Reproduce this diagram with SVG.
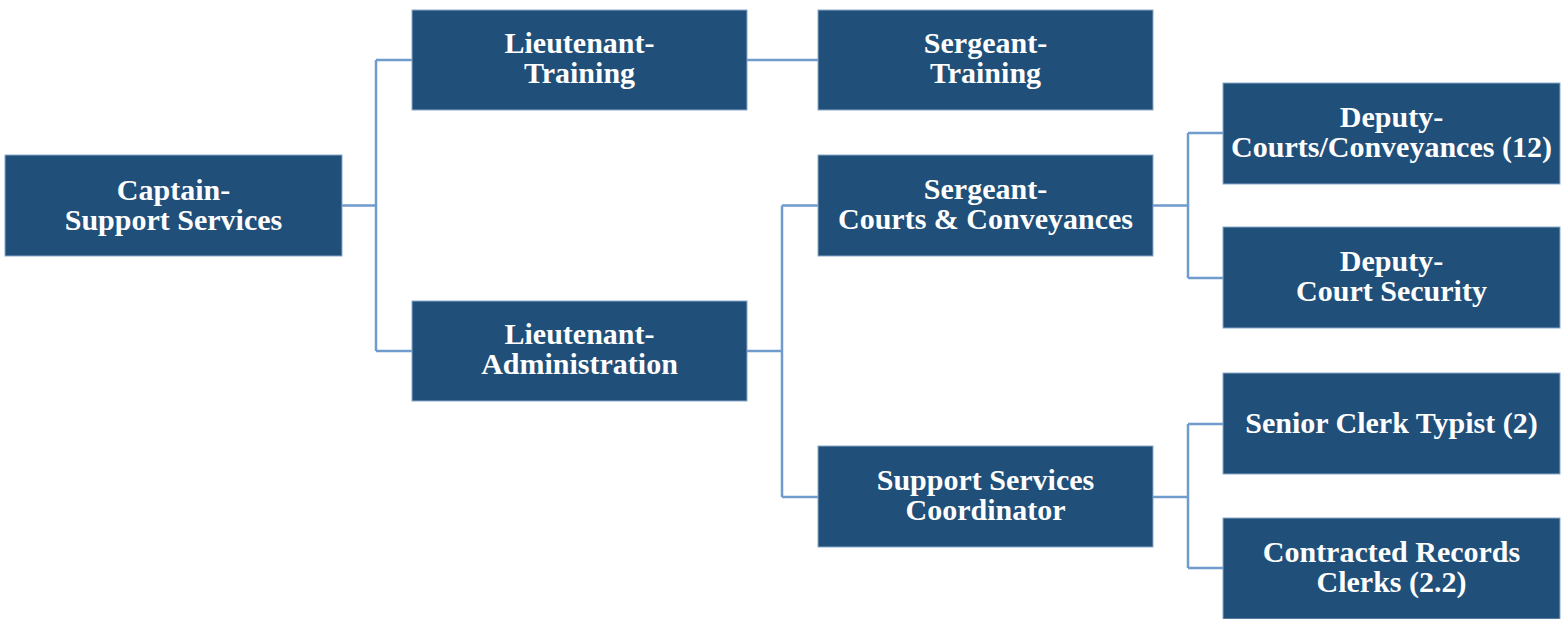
<svg xmlns="http://www.w3.org/2000/svg" width="1562" height="619" viewBox="0 0 1562 619">
<style>
.box{fill:#204f79;stroke:#8aa9c9;stroke-width:1}
.t{font-family:"Liberation Serif","Times New Roman",serif;font-weight:bold;font-size:30px;fill:#ffffff;text-anchor:middle}
.c{fill:none;stroke:#6f9bcd;stroke-width:2.5}
</style>
<rect width="1562" height="619" fill="#ffffff"/>
<g id="connectors">
<path class="c" d="M342,205.5H376M376,60V351M376,60H412M376,351H412"/>
<path class="c" d="M747,60H818"/>
<path class="c" d="M747,351H782M782,205.5V497M782,205.5H818M782,497H818"/>
<path class="c" d="M1153,205.5H1188M1188,133V278M1188,133H1223M1188,278H1223"/>
<path class="c" d="M1153,497H1188M1188,424V568M1188,424H1223M1188,568H1223"/>
</g>
<g id="captain"><rect class="box" x="5" y="155" width="337" height="101"/><text class="t" x="173.5" y="200">Captain-</text><text class="t" x="173.5" y="230">Support Services</text></g>
<g id="lt-training"><rect class="box" x="412" y="10" width="335" height="100"/><text class="t" x="579.5" y="53">Lieutenant-</text><text class="t" x="579.5" y="83">Training</text></g>
<g id="sgt-training"><rect class="box" x="818" y="10" width="335" height="100"/><text class="t" x="985.5" y="53">Sergeant-</text><text class="t" x="985.5" y="83">Training</text></g>
<g id="lt-admin"><rect class="box" x="412" y="301" width="335" height="100"/><text class="t" x="579.5" y="344">Lieutenant-</text><text class="t" x="579.5" y="374">Administration</text></g>
<g id="sgt-courts"><rect class="box" x="818" y="155" width="335" height="101"/><text class="t" x="985.5" y="199">Sergeant-</text><text class="t" x="985.5" y="229">Courts &amp; Conveyances</text></g>
<g id="ssc"><rect class="box" x="818" y="446" width="335" height="101"/><text class="t" x="985.5" y="490">Support Services</text><text class="t" x="985.5" y="520">Coordinator</text></g>
<g id="dep-courts"><rect class="box" x="1223" y="83" width="337" height="101"/><text class="t" x="1391.5" y="127">Deputy-</text><text class="t" x="1391.5" y="157">Courts/Conveyances (12)</text></g>
<g id="dep-security"><rect class="box" x="1223" y="227" width="337" height="101"/><text class="t" x="1391.5" y="271">Deputy-</text><text class="t" x="1391.5" y="301">Court Security</text></g>
<g id="senior-clerk"><rect class="box" x="1223" y="373" width="337" height="101"/><text class="t" x="1391.5" y="433">Senior Clerk Typist (2)</text></g>
<g id="records-clerks"><rect class="box" x="1223" y="518" width="337" height="101"/><text class="t" x="1391.5" y="562">Contracted Records</text><text class="t" x="1391.5" y="592">Clerks (2.2)</text></g>
</svg>
